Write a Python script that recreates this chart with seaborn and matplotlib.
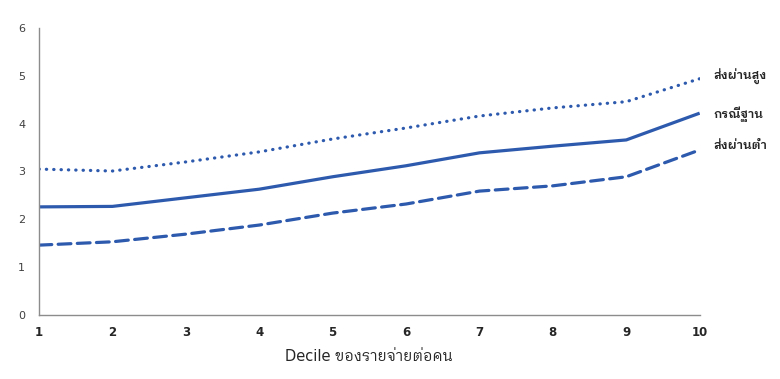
import matplotlib
matplotlib.use("Agg")
import matplotlib.pyplot as plt
import seaborn as sns
import pandas as pd


# =========================
# DATA
# =========================

deciles = [1, 2, 3, 4, 5, 6, 7, 8, 9, 10]

high = [3.05, 3.01, 3.20, 3.41, 3.68, 3.91, 4.16, 4.33, 4.46, 4.94]
base = [2.26, 2.27, 2.45, 2.63, 2.89, 3.12, 3.39, 3.53, 3.66, 4.22]
low = [1.46, 1.53, 1.69, 1.88, 2.13, 2.32, 2.59, 2.70, 2.89, 3.45]

series_names = ["ส่งผ่านสูง", "กรณีฐาน", "ส่งผ่านต่ำ"]

df = pd.DataFrame({
    "decile": deciles * 3,
    "value": high + base + low,
    "case": [n for n in series_names for _ in deciles]
})


# =========================
# PLOT
# =========================

sns.set_style("white")
plt.rcParams["font.family"] = ["DejaVu Sans", "IBM Plex Sans Thai Looped"]

blue = "#2e5aae"

fig = plt.figure(figsize=(7.8, 3.79), dpi=100)
ax = fig.add_axes([0.05, 0.169, 0.847, 0.757])

sns.lineplot(
    data=df,
    x="decile",
    y="value",
    style="case",
    style_order=series_names,
    dashes={
        "ส่งผ่านสูง": (0.1, 2.2),
        "กรณีฐาน": "",
        "ส่งผ่านต่ำ": (4.0, 2.0)
    },
    color=blue,
    linewidth=2.3,
    legend=False,
    ax=ax
)

for line in ax.lines:
    line.set_dash_capstyle("round")
    line.set_solid_capstyle("butt")

ax.set_xlim(1, 10)
ax.set_ylim(0, 6)
ax.set_xticks(deciles)
ax.set_yticks(range(0, 7))

for s in ["top", "right"]:
    ax.spines[s].set_visible(False)
for s in ["left", "bottom"]:
    ax.spines[s].set_color("#8c8c8c")
    ax.spines[s].set_linewidth(1.0)

ax.tick_params(axis="both", length=3, width=0.8, color="#8c8c8c")
ax.tick_params(axis="y", labelsize=8, labelcolor="#404040", pad=7)
ax.tick_params(axis="x", labelsize=8.5, pad=5)
for lab in ax.get_xticklabels():
    lab.set_fontweight("bold")

ax.set_xlabel("Decile ของรายจ่ายต่อคน", fontsize=10.5, labelpad=7)
ax.set_ylabel("")

# line labels at the right end
for name, vals, dy in zip(series_names, [high, base, low], [2, -1, 3]):
    ax.annotate(
        name,
        xy=(deciles[-1], vals[-1]),
        xytext=(10, dy),
        textcoords="offset points",
        va="center",
        ha="left",
        fontsize=8.7,
        fontweight="semibold",
        annotation_clip=False
    )

fig.savefig("out.png", dpi=100)
